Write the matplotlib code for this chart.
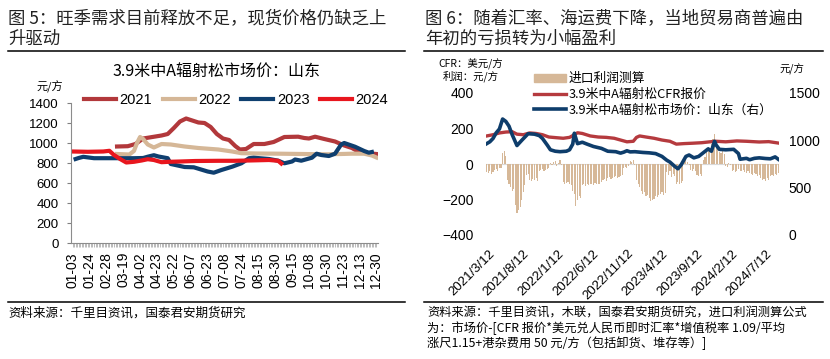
import numpy as np
import pandas as pd
import matplotlib
matplotlib.use("Agg")
import matplotlib.pyplot as plt
from matplotlib.lines import Line2D
from matplotlib.patches import Patch

plt.rcParams['font.family'] = ['Liberation Sans', 'Noto Sans CJK SC', 'DejaVu Sans']
CJK = ['Noto Sans CJK SC', 'DejaVu Sans']

# === 图5: 3.9米中A辐射松市场价 山东 (按交易日序号) ===
x_labels = ["01-03", "01-24", "02-28", "03-19", "04-02", "04-23", "05-22", "06-07",
            "06-23", "07-08", "07-24", "08-15", "08-30", "09-15", "10-08", "10-30",
            "11-23", "12-13", "12-30"]
n_days = 199
label_pos = list(range(0, n_days, 11))

idx_2021 = [29, 36, 41, 46, 52, 58, 62, 66, 70, 74, 78, 82, 86, 90, 94, 98, 102, 106,
            109, 113, 118, 125, 131, 138, 147, 151, 154, 158, 164, 171, 177, 182, 186, 193, 198]
val_2021 = [965, 968, 990, 1045, 1060, 1075, 1090, 1150, 1215, 1245, 1225, 1205, 1200, 1160,
            1090, 1045, 1030, 970, 935, 940, 990, 990, 1010, 1060, 1063, 1050, 1045, 1063,
            1040, 1015, 975, 950, 915, 897, 890]

idx_2022 = [29, 37, 40, 42, 44, 46, 49, 53, 58, 64, 73, 82, 95, 104, 110, 120, 135, 150,
            165, 175, 182, 190, 195, 198]
val_2022 = [890, 885, 920, 1000, 1060, 1040, 985, 955, 990, 985, 965, 950, 935, 915, 898,
            895, 893, 890, 887, 890, 893, 893, 875, 855]

idx_2023 = [2, 4, 7, 14, 25, 40, 46, 49, 53, 56, 62, 64, 73, 79, 88, 92, 97, 104, 110, 115,
            118, 128, 134, 138, 143, 145, 149, 156, 159, 162, 167, 171, 175, 177, 184, 190, 193, 195]
val_2023 = [840, 850, 862, 848, 848, 848, 850, 863, 878, 865, 848, 790, 760, 757, 715, 703,
            730, 763, 797, 848, 853, 840, 823, 797, 815, 835, 823, 853, 893, 880, 870, 893,
            985, 1000, 963, 920, 903, 910]

idx_2024 = [0, 10, 20, 24, 27, 31, 35, 40, 45, 49, 53, 58, 63, 70, 80, 95, 105, 115, 128, 134, 136]
val_2024 = [915, 912, 915, 922, 880, 840, 805, 812, 825, 838, 830, 808, 812, 815, 820, 822,
            822, 825, 830, 822, 795]

# === 图6: 进口利润 / CFR报价 / 市场价 (周度) ===
week0 = pd.Timestamp("2021-03-05")
profit = [-45, -50, -40, -55, -45, -35, -30, -40, -25, -20,
          60, 75, 45,
          -90, -110, -130, -150, -140,
          -230, -275, -260, -240,
          -200, -160, -120,
          -60, -55,
          -90, -95, -85, -90, -80, -95,
          -40, -35, -30, -40, -35, -30, -20,
          5, -5, 10, 15, -10, 5, 20, -8,
          -100, -110, -105, -100, -115, -120,
          -150,
          -170, -235, -200, -180, -190,
          -120, -110, -125, -115, -120, -110, -115, -120, -105, -110, -115, -110, -100,
          -90, -85, -95, -80, -75, -85, -80, -75, -70, -80, -75, -70, -60,
          -20, -15, -25, -10,
          15, 10, 20, -5,
          -90, -110, -130, -150, -170, -160, -180, -175, -190,
          -210, -200, -195, -180, -185, -175, -170, -160, -175, -165,
          -45, -60, -40, -75, -55, -70,
          -110, -100, -115, -105, -95,
          15, 20, 10, -5,
          -35, -40, -30, -38,
          -60, -65, -55, -70,
          20, 40, 65, 95, 80, 110, 140, 170, 120,
          90, 70, 60, 80, 55,
          -10, -15, 5, -8,
          -40, -35, -45, -38, -30, -42, -40, -35, -45, -50, -40, -48,
          -55, -60, -50, -58, -65, -60,
          -80, -90, -85, -95, -80, -88,
          -65, -60, -70, -55, -60, -50]

week_cfr = [0, 4, 8, 12, 16, 19, 23, 27, 31, 35, 39, 44, 48, 52, 55, 57, 60, 65, 70, 75, 80,
            84, 88, 92, 94, 96, 100, 105, 110, 115, 119, 124, 129, 135, 140, 144, 150, 157,
            163, 171, 177, 183]
cfr = [158, 165, 175, 180, 182, 168, 165, 175, 172, 165, 152, 148, 145, 150, 165, 176, 172,
       158, 152, 150, 145, 135, 125, 128, 150, 158, 152, 145, 135, 128, 112, 115, 117, 120,
       125, 128, 125, 130, 128, 124, 126, 118]

week_mkt = [0, 2, 4, 6, 8, 10, 12, 14, 16, 19, 22, 26, 30, 33, 35, 38, 40, 43, 46, 50, 52,
            54, 55, 56, 57, 60, 63, 67, 72, 76, 81, 84, 86, 88, 90, 93, 98, 102, 106, 110,
            113, 115, 118, 120, 122, 125, 127, 130, 133, 136, 139, 141, 143, 144, 146, 150,
            155, 158, 159, 163, 165, 168, 171, 175, 178, 181, 183]
mkt = [965, 985, 1020, 1080, 1120, 1225, 1200, 1150, 1060, 945, 1000, 1070, 1065, 1050, 1020,
       950, 900, 885, 880, 885, 900, 960, 1075, 1020, 965, 980, 960, 935, 915, 885, 880, 865,
       875, 890, 878, 880, 872, 868, 860, 830, 790, 770, 725, 700, 740, 830, 845, 815, 830,
       870, 910, 885, 990, 950, 905, 900, 905, 860, 800, 810, 795, 810, 815, 808, 805, 825, 800]

date_labels = ["2021/3/12", "2021/8/12", "2022/1/12", "2022/6/12", "2022/11/12",
               "2023/4/12", "2023/9/12", "2024/2/12", "2024/7/12"]

W, H = 830, 359
def fx(px):
    return px / W
def fy(py):
    return 1 - py / H

fig = plt.figure(figsize=(W / 100, H / 100), dpi=100)

# ---------- 左图 ----------
fig.text(fx(8), fy(18), "图 5：旺季需求目前释放不足，现货价格仍缺乏上", family=CJK,
         fontsize=12.5, va='center', ha='left', color='#222222')
fig.text(fx(8), fy(39), "升驱动", family=CJK, fontsize=12.5, va='center', ha='left', color='#222222')
fig.add_artist(Line2D([fx(8), fx(405)], [fy(50.5)] * 2, color='black', lw=1.1))
fig.add_artist(Line2D([fx(8), fx(405)], [fy(302)] * 2, color='black', lw=1.1))
fig.text(fx(216), fy(71), "3.9米中A辐射松市场价：山东", family=CJK, fontsize=11.5,
         ha='center', va='center')
fig.text(fx(50), fy(87), "元/方", family=CJK, fontsize=8, ha='center', va='center')
fig.text(fx(8), fy(313), "资料来源：千里目资讯，国泰君安期货研究", family=CJK,
         fontsize=9, ha='left', va='center')

ax1 = fig.add_axes([fx(71), fy(243), fx(307), 140 / H])
l1, = ax1.plot(idx_2021, val_2021, color='#B2383B', lw=3, label='2021')
l2, = ax1.plot(idx_2022, val_2022, color='#D5B797', lw=3, label='2022')
l3, = ax1.plot(idx_2023, val_2023, color='#0F3F6F', lw=3, label='2023')
l4, = ax1.plot(idx_2024, val_2024, color='#E8161E', lw=3, label='2024')
ax1.set_xlim(-1, n_days)
ax1.set_ylim(0, 1400)
ax1.set_yticks(range(0, 1401, 200))
ax1.set_xticks(label_pos, x_labels, rotation=90, fontsize=10)
ax1.set_xticks(range(n_days), minor=True)
ax1.tick_params(axis='y', labelsize=9.5, length=3, color='#808080', pad=6)
ax1.tick_params(axis='x', which='both', length=3, color='#A0A0A0', width=0.5)
for s in ['top', 'right']:
    ax1.spines[s].set_visible(False)
for s in ['left', 'bottom']:
    ax1.spines[s].set_color('#8C8C8C')
    ax1.spines[s].set_linewidth(0.8)
ax1.legend(handles=[l1, l2, l3, l4], ncol=4, loc='center',
           bbox_to_anchor=(fx(236), fy(100)), bbox_transform=fig.transFigure,
           frameon=False, fontsize=10.5, handlelength=2.2, handletextpad=0.25,
           columnspacing=0.7, borderpad=0)

# ---------- 右图 ----------
fig.text(fx(425), fy(18), "图 6：随着汇率、海运费下降，当地贸易商普遍由", family=CJK,
         fontsize=12.5, va='center', ha='left', color='#222222')
fig.text(fx(425), fy(39), "年初的亏损转为小幅盈利", family=CJK, fontsize=12.5,
         va='center', ha='left', color='#222222')
fig.add_artist(Line2D([fx(424), fx(823)], [fy(50.5)] * 2, color='black', lw=1.1))
fig.add_artist(Line2D([fx(424), fx(823)], [fy(302)] * 2, color='black', lw=1.1))
fig.text(fx(471), fy(64), "CFR：美元/方", family=CJK, fontsize=7.5, ha='center', va='center')
fig.text(fx(471), fy(76), "利润：元/方", family=CJK, fontsize=7.5, ha='center', va='center')
fig.text(fx(792), fy(69), "元/方", family=CJK, fontsize=7.5, ha='center', va='center')
src = ["资料来源：千里目资讯，木联，国泰君安期货研究，进口利润测算公式",
       "为：市场价-[CFR 报价*美元兑人民币即时汇率*增值税率 1.09/平均",
       "涨尺1.15+港杂费用 50 元/方（包括卸货、堆存等）]"]
for k, line in enumerate(src):
    fig.text(fx(427), fy(313 + 15 * k), line, family=CJK, fontsize=8.8, ha='left', va='center')

weeks = week0 + pd.to_timedelta(7 * np.arange(len(profit)), unit='D')
d_cfr = week0 + pd.to_timedelta(7 * np.array(week_cfr), unit='D')
d_mkt = week0 + pd.to_timedelta(7 * np.array(week_mkt), unit='D')

ax2 = fig.add_axes([fx(486), fy(235), fx(293), 142 / H])
ax2.axhline(0, color='#D9D9D9', lw=0.8, zorder=0)
b = ax2.bar(weeks, profit, width=5, color='#D6B898', label='进口利润测算', zorder=1)
lc, = ax2.plot(d_cfr, cfr, color='#B53A3E', lw=2.4, label='3.9米中A辐射松CFR报价', zorder=2)
ax2.set_ylim(-400, 400)
ax2.set_yticks(range(-400, 401, 200))
ax2.set_xlim(pd.Timestamp("2021-03-02"), pd.Timestamp("2024-09-09"))
tick_dates = [pd.Timestamp(s.replace('/', '-')) for s in date_labels]
ax2.set_xticks(tick_dates)
ax2.set_xticklabels(date_labels, rotation=45, ha='right', rotation_mode='anchor', fontsize=9.5)
ax2.tick_params(axis='both', length=0)
ax2.tick_params(axis='y', labelsize=10, pad=9)
ax2.tick_params(axis='x', pad=9)

ax3 = ax2.twinx()
lm, = ax3.plot(d_mkt, mkt, color='#0E3D6B', lw=2.6, label='3.9米中A辐射松市场价：山东（右）')
ax3.set_ylim(0, 1500)
ax3.set_yticks(range(0, 1501, 500))
ax3.tick_params(axis='y', length=0, labelsize=10, pad=7)
for a in (ax2, ax3):
    for s in a.spines.values():
        s.set_visible(False)

ax3.legend(handles=[Patch(color='#D6B898'), lc, lm],
           labels=['进口利润测算', '3.9米中A辐射松CFR报价', '3.9米中A辐射松市场价：山东（右）'],
           loc='upper left', bbox_to_anchor=(fx(528), fy(66)), bbox_transform=fig.transFigure,
           frameon=False, prop={'family': CJK, 'size': 9.2}, handlelength=2.5,
           handletextpad=0.2, labelspacing=0.2, borderpad=0, handleheight=0.6)

fig.savefig("out.png", dpi=100)
